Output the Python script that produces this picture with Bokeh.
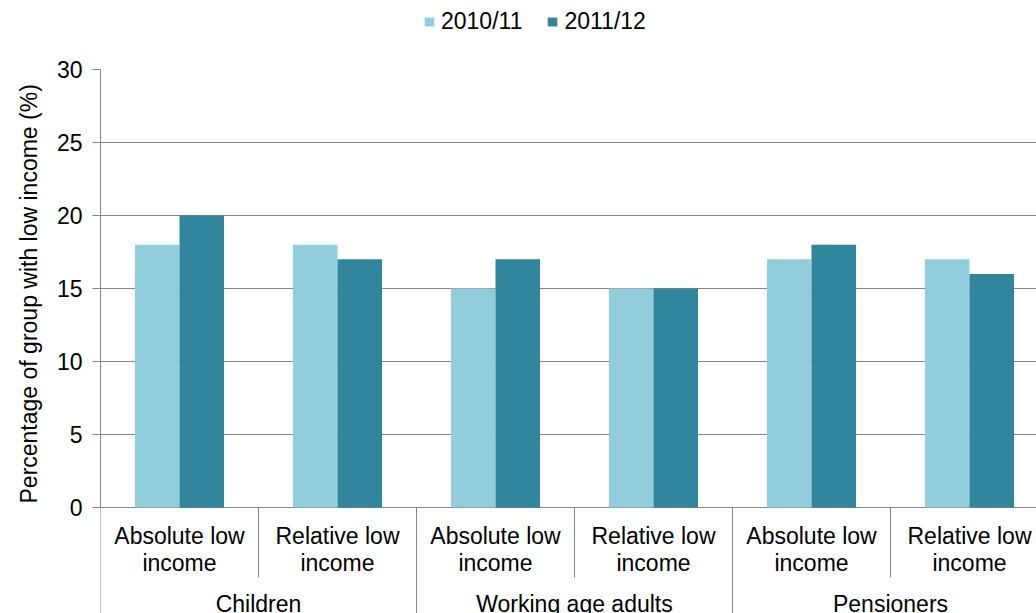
from bokeh.plotting import figure
from bokeh.layouts import column
from bokeh.models import Range1d, FixedTicker, Legend, LegendItem, ColumnDataSource, Title
from bokeh.embed import file_html
from bokeh.resources import INLINE
from bokeh.core.properties import value

# ---- data ----
groups = ["Children", "Working age adults", "Pensioners"]
measures = ["Absolute low income", "Relative low income"]
series_names = ["2010/11", "2011/12"]
values_2010_11 = [18, 18, 15, 15, 17, 17]
values_2011_12 = [20, 17, 17, 15, 18, 16]
y_ticks = [0, 5, 10, 15, 20, 25, 30]
y_label = "Percentage of group with low income (%)"

# ---- style ----
colors = ["#92CDDC", "#31859C"]
FONT = "Liberation Sans"
FS = "23px"
GRID = "#868686"
TXT = "#000000"

n_sub = len(measures)
n = len(groups) * n_sub
bar_w = 0.282

p = figure(width=1036, height=556,
           x_range=Range1d(0, 5.924), y_range=Range1d(-7.26, 30),
           x_axis_type=None, output_backend="svg", toolbar_location=None,
           min_border_left=100, min_border_top=12, min_border_right=0, min_border_bottom=0)
p.outline_line_color = None
p.background_fill_color = "white"
p.border_fill_color = "white"

# y axis
ax = p.yaxis[0]
ax.ticker = FixedTicker(ticks=y_ticks)
ax.bounds = (y_ticks[0], y_ticks[-1])
ax.major_tick_in = 0
ax.major_tick_out = 8
ax.minor_tick_in = 0
ax.minor_tick_out = 0
ax.axis_line_color = GRID
ax.major_tick_line_color = GRID
ax.major_label_text_font = FONT
ax.major_label_text_font_size = FS
ax.major_label_text_color = TXT
ax.major_label_standoff = 10

# y axis title, placed beside the value part of the axis
ytitle = Title(text=y_label, align="left", offset=110, standoff=23,
               text_font=FONT, text_font_size=FS, text_font_style="normal", text_color=TXT)
p.add_layout(ytitle, "left")

p.ygrid.ticker = FixedTicker(ticks=y_ticks)
p.ygrid.grid_line_color = GRID
p.ygrid.grid_line_width = 1

# bars
centers = [i + 0.5 for i in range(n)]
src = ColumnDataSource(dict(
    x1=[c - bar_w / 2 for c in centers],
    x2=[c + bar_w / 2 for c in centers],
    v1=values_2010_11, v2=values_2011_12))
p.vbar(x="x1", top="v1", bottom=0, width=bar_w, source=src,
       fill_color=colors[0], line_color=None)
p.vbar(x="x2", top="v2", bottom=0, width=bar_w, source=src,
       fill_color=colors[1], line_color=None)

# category separators
sep_x = list(range(n))
sep_y1 = [-8 if i % n_sub == 0 else -4.8 for i in sep_x]
p.segment(x0=sep_x, x1=sep_x, y0=[0] * n, y1=sep_y1, line_color=GRID, line_width=1)

# sub-category labels (two lines)
line1 = []
line2 = []
for g in groups:
    for m in measures:
        a, b = m.rsplit(" ", 1)
        line1.append(a)
        line2.append(b)
p.text(x=centers, y=[-1.92] * n, text=line1, text_align="center", text_baseline="middle",
       text_font=value(FONT), text_font_size=FS, text_color=TXT)
p.text(x=centers, y=[-3.77] * n, text=line2, text_align="center", text_baseline="middle",
       text_font=value(FONT), text_font_size=FS, text_color=TXT)

# group labels
gcent = [i * n_sub + n_sub / 2 for i in range(len(groups))]
p.text(x=gcent, y=[-6.64] * len(groups), text=groups, text_align="center", text_baseline="middle",
       text_font=value(FONT), text_font_size=FS, text_color=TXT)

# legend row (separate strip above the chart; its bars lie outside its view)
lg = figure(width=1036, height=57, x_range=Range1d(0, 1), y_range=Range1d(100, 101),
            x_axis_type=None, y_axis_type=None, output_backend="svg", toolbar_location=None,
            min_border=0)
lg.outline_line_color = None
lg.xgrid.visible = False
lg.ygrid.visible = False
k1 = lg.vbar(x="x1", top="v1", bottom=0, width=bar_w, source=src,
             fill_color=colors[0], line_color=None)
k2 = lg.vbar(x="x2", top="v2", bottom=0, width=bar_w, source=src,
             fill_color=colors[1], line_color=None)
legend = Legend(items=[LegendItem(label=series_names[0], renderers=[k1]),
                       LegendItem(label=series_names[1], renderers=[k2])],
                orientation="horizontal", location=(323, 22),
                glyph_width=12, glyph_height=11, label_standoff=6, spacing=24,
                padding=0, margin=0, border_line_color=None, background_fill_alpha=0,
                label_text_font=FONT, label_text_font_size=FS, label_text_color=TXT)
lg.add_layout(legend, "center")

layout = column(lg, p, spacing=0)
open("out.html", "w").write(file_html(layout, INLINE))
